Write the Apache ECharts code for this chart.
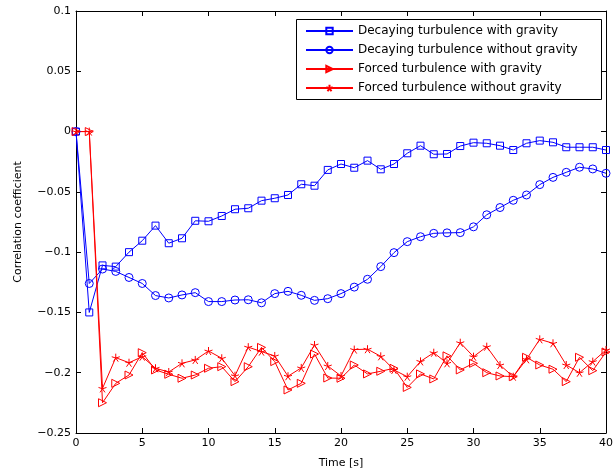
<!DOCTYPE html>
<html>
<head>
<meta charset="utf-8">
<script src="https://cdn.jsdelivr.net/npm/echarts@6/dist/echarts.min.js"></script>
<style>
  html, body { margin: 0; padding: 0; background: #fff; }
  #chart { width: 616px; height: 475px; }
</style>
</head>
<body>
<div id="chart"></div>
<script>
// Sample times [s]
const times = [0, 1, 2, 3, 4, 5, 6, 7, 8, 9, 10, 11, 12, 13, 14, 15, 16, 17, 18, 19, 20,
  21, 22, 23, 24, 25, 26, 27, 28, 29, 30, 31, 32, 33, 34, 35, 36, 37, 38, 39, 40];

// Correlation coefficient for each run
const decayingWithGravity = [0, -0.150, -0.111, -0.112, -0.100, -0.0905, -0.078, -0.0926, -0.0885, -0.074,
  -0.0744, -0.070, -0.0644, -0.0636, -0.0573, -0.0553, -0.0526, -0.0437, -0.0449, -0.0318,
  -0.0269, -0.030, -0.0241, -0.0313, -0.0269, -0.018, -0.0117, -0.0188, -0.0186, -0.012,
  -0.0092, -0.0097, -0.0117, -0.0153, -0.0097, -0.0075, -0.0089, -0.013, -0.013, -0.013, -0.0153];

const decayingWithoutGravity = [0, -0.126, -0.114, -0.116, -0.121, -0.126, -0.136, -0.138, -0.1355, -0.1336,
  -0.141, -0.141, -0.1397, -0.1395, -0.142, -0.1344, -0.1325, -0.1358, -0.140, -0.1386,
  -0.1344, -0.129, -0.1225, -0.112, -0.1004, -0.0913, -0.0872, -0.0844, -0.084, -0.0838,
  -0.079, -0.069, -0.063, -0.057, -0.0526, -0.044, -0.038, -0.0338, -0.0296, -0.031, -0.0346];

const forcedWithGravity = [0, 0, -0.2249, -0.2088, -0.2019, -0.1834, -0.1977, -0.2013, -0.2046, -0.2019,
  -0.1963, -0.195, -0.2074, -0.195, -0.179, -0.1908, -0.2143, -0.2088, -0.1845, -0.2044,
  -0.2046, -0.1936, -0.201, -0.1988, -0.1963, -0.2122, -0.201, -0.2052, -0.186, -0.1977,
  -0.1922, -0.2, -0.2027, -0.2033, -0.1872, -0.1936, -0.1971, -0.2074, -0.1872, -0.1983, -0.1828];

const forcedWithoutGravity = [0, 0, -0.213, -0.1875, -0.1917, -0.1867, -0.1963, -0.1994, -0.1922, -0.1894,
  -0.182, -0.188, -0.2025, -0.1788, -0.1825, -0.1861, -0.2029, -0.196, -0.177, -0.1944,
  -0.2027, -0.1808, -0.1805, -0.1864, -0.1977, -0.2033, -0.1906, -0.1834, -0.1922, -0.1751,
  -0.1867, -0.1784, -0.1936, -0.2033, -0.1889, -0.1723, -0.1756, -0.1936, -0.2, -0.1908, -0.1811];

const seriesNames = [
  'Decaying turbulence with gravity',
  'Decaying turbulence without gravity',
  'Forced turbulence with gravity',
  'Forced turbulence without gravity'
];

// Axis tick labels
const xTickValues = [0, 5, 10, 15, 20, 25, 30, 35, 40];
const xTickLabels = ['0', '5', '10', '15', '20', '25', '30', '35', '40'];
const yTickValues = [0.1, 0.05, 0, -0.05, -0.1, -0.15, -0.2, -0.25];
const yTickLabels = ['0.1', '0.05', '0', '\u22120.05', '\u22120.1', '\u22120.15', '\u22120.2', '\u22120.25'];

const FONT = 'DejaVu Sans';

function pairUp(values) {
  return times.map((t, i) => [t, values[i]]);
}
function lookup(values, labels) {
  return function (v) {
    for (let i = 0; i < values.length; i++) {
      if (Math.abs(values[i] - v) < 1e-9) return labels[i];
    }
    return '';
  };
}

// five-armed asterisk marker
const asterisk = 'path://M5 5 L5 0 M5 5 L9.755 3.455 M5 5 L7.939 9.045 M5 5 L2.061 9.045 M5 5 L0.245 3.455';

const BLUE = '#0000ff';
const RED = '#ff0000';

function lineSeries(name, values, color, symbol, size, rotate) {
  return {
    name: name,
    type: 'line',
    data: pairUp(values),
    xAxisIndex: 0,
    yAxisIndex: 0,
    symbol: symbol,
    symbolSize: size,
    symbolRotate: rotate || 0,
    showAllSymbol: true,
    animation: false,
    lineStyle: { color: color, width: 1 },
    itemStyle: { color: 'rgba(0,0,0,0)', borderColor: color, borderWidth: 1 },
    emphasis: { disabled: true },
    z: 2
  };
}

const frameLine = { show: true, onZero: false, lineStyle: { color: '#000', width: 1 } };
const innerTick = { show: true, inside: true, length: 5, lineStyle: { color: '#000', width: 1 } };

const chart = echarts.init(document.getElementById('chart'), null, { renderer: 'canvas' });
chart.setOption({
  backgroundColor: '#fff',
  animation: false,
  grid: { left: 76, right: 9, top: 11, bottom: 42, containLabel: false },
  xAxis: [
    {
      type: 'value', position: 'bottom', min: 0, max: 40, interval: 5,
      axisLine: frameLine, axisTick: innerTick, splitLine: { show: false },
      axisLabel: { margin: 5, color: '#000', fontFamily: FONT, fontSize: 11,
        formatter: lookup(xTickValues, xTickLabels) },
      name: 'Time [s]', nameLocation: 'middle', nameGap: 25,
      nameTextStyle: { color: '#000', fontFamily: FONT, fontSize: 11 }
    },
    {
      type: 'value', position: 'top', min: 0, max: 40, interval: 5,
      axisLine: frameLine, axisTick: innerTick, splitLine: { show: false },
      axisLabel: { show: false }
    }
  ],
  yAxis: [
    {
      type: 'value', position: 'left', min: -0.25, max: 0.1, interval: 0.05,
      axisLine: frameLine, axisTick: innerTick, splitLine: { show: false },
      axisLabel: { margin: 5, color: '#000', fontFamily: FONT, fontSize: 11,
        formatter: lookup(yTickValues, yTickLabels) },
      name: 'Correlation coefficient', nameLocation: 'middle', nameGap: 52,
      nameTextStyle: { color: '#000', fontFamily: FONT, fontSize: 11 }
    },
    {
      type: 'value', position: 'right', min: -0.25, max: 0.1, interval: 0.05,
      axisLine: frameLine, axisTick: innerTick, splitLine: { show: false },
      axisLabel: { show: false }
    }
  ],
  graphic: [
    {
      type: 'rect', left: 296, top: 19, z: 10,
      shape: { width: 305, height: 80 },
      style: { fill: '#fff', stroke: '#000', lineWidth: 1 }
    }
  ],
  legend: {
    orient: 'vertical', left: 305, top: 25, padding: 0,
    itemWidth: 47, itemHeight: 8, itemGap: 7, z: 20,
    textStyle: { color: '#000', fontFamily: FONT, fontSize: 12, lineHeight: 12 },
    data: seriesNames,
    selectedMode: false
  },
  series: [
    lineSeries(seriesNames[0], decayingWithGravity, BLUE, 'rect', 7),
    lineSeries(seriesNames[1], decayingWithoutGravity, BLUE, 'circle', 8),
    lineSeries(seriesNames[2], forcedWithGravity, RED, 'triangle', 8, -90),
    lineSeries(seriesNames[3], forcedWithoutGravity, RED, asterisk, 8)
  ]
});
</script>
</body>
</html>
